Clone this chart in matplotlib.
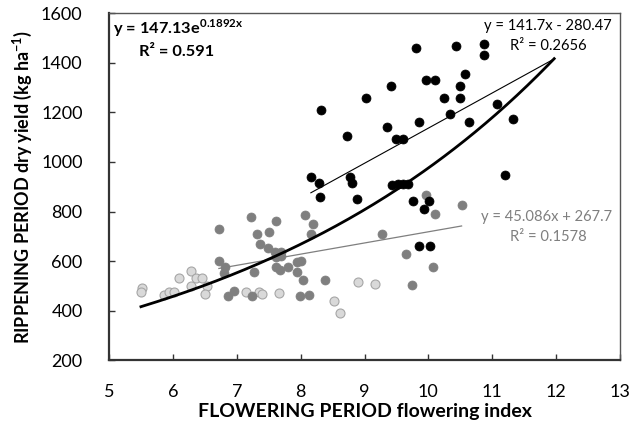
import numpy as np
import matplotlib
matplotlib.use("Agg")
import matplotlib.pyplot as plt

plt.rcParams['font.family'] = ['Lato', 'DejaVu Sans']
plt.rcParams['mathtext.fontset'] = 'custom'
plt.rcParams['mathtext.rm'] = 'Lato'
plt.rcParams['mathtext.bf'] = 'Lato:bold'

# Groupe 1 : points noirs
black_x = [8.32, 8.73, 8.16, 8.29, 8.77, 8.80, 8.30, 8.88, 9.80, 10.44, 10.87, 10.87,
           10.57, 9.96, 10.10, 10.49, 9.41, 9.03, 10.25, 10.50, 11.07, 10.34, 11.32,
           9.85, 10.63, 9.35, 9.50, 9.60, 11.20, 9.43, 9.52, 9.60, 9.68, 9.76, 10.01,
           9.93, 9.85, 10.02]
black_y = [1210, 1105, 941, 917, 941, 917, 860, 850, 1461, 1468, 1476, 1432,
           1354, 1331, 1331, 1308, 1308, 1260, 1257, 1260, 1233, 1194, 1174,
           1162, 1162, 1142, 1092, 1092, 947, 908, 911, 912, 910, 844, 844,
           810, 662, 662]

# Groupe 2 : points gris foncé
gray_x = [9.96, 10.10, 10.52, 9.28, 9.65, 10.07, 9.75, 7.22, 7.61, 8.07, 8.20, 6.72,
          7.31, 7.51, 8.16, 7.37, 7.49, 7.60, 7.70, 7.62, 7.70, 6.72, 7.94, 8.00,
          6.82, 6.80, 7.27, 7.61, 7.68, 7.81, 7.94, 8.03, 8.38, 6.95, 6.87, 7.24,
          7.99, 8.13]
gray_y = [867, 790, 827, 710, 630, 576, 503, 780, 764, 787, 749, 729,
          709, 716, 710, 670, 652, 639, 639, 616, 621, 602, 598, 602,
          576, 552, 558, 576, 565, 576, 558, 525, 525, 480, 460, 461,
          460, 463]

# Groupe 3 : points gris clair
light_x = [8.90, 9.16, 5.51, 5.50, 5.86, 5.94, 6.02, 6.10, 6.28, 6.36, 6.45, 6.29,
           6.53, 6.51, 7.15, 7.35, 7.39, 7.66, 8.53, 8.62]
light_y = [517, 508, 491, 477, 464, 475, 475, 532, 561, 532, 532, 498,
           500, 468, 477, 477, 468, 473, 440, 393]

# Courbes de tendance (équations affichées)
exp_a, exp_b = 147.13, 0.1892
lin1_a, lin1_b = 141.7, -280.47
lin2_a, lin2_b = 45.086, 267.7
trend_xmax = 11.97

fig = plt.figure(figsize=(6.32, 4.25), dpi=100)
ax = fig.add_axes([0.1725, 0.152, 0.8085, 0.817])

ax.scatter(light_x, light_y, s=42, color='#d9d9d9', edgecolors='#a6a6a6', linewidths=0.8, zorder=3)
ax.scatter(gray_x, gray_y, s=42, color='#7f7f7f', edgecolors='#7f7f7f', linewidths=0.5, zorder=3)
ax.scatter(black_x, black_y, s=42, color='black', edgecolors='black', linewidths=0.5, zorder=3)

# Tendance linéaire des noirs
xl1 = np.linspace(min(black_x), trend_xmax, 50)
ax.plot(xl1, lin1_a * xl1 + lin1_b, color='black', lw=0.8, zorder=4)

# Tendance linéaire des gris
xl2 = np.linspace(min(gray_x), max(gray_x), 50)
ax.plot(xl2, lin2_a * xl2 + lin2_b, color='#7f7f7f', lw=0.9, zorder=4)

# Tendance exponentielle globale
all_x = black_x + gray_x + light_x
xe = np.linspace(min(all_x), trend_xmax, 200)
ax.plot(xe, exp_a * np.exp(exp_b * xe), color='black', lw=2.0, zorder=5)

ax.set_xlim(5, 13)
ax.set_ylim(200, 1600)
ax.set_xticks(range(5, 14))
ax.set_yticks(range(200, 1601, 200))
ax.tick_params(direction='in', length=4.5, width=1, labelsize=13, pad=19,
               color='#333333', labelcolor='black')
ax.tick_params(axis='x', pad=17)

for side in ['left', 'bottom']:
    ax.spines[side].set_linewidth(1.6)
    ax.spines[side].set_color('#333333')
for side in ['top', 'right']:
    ax.spines[side].set_linewidth(1.0)
    ax.spines[side].set_color('#555555')

ax.set_xlabel('FLOWERING PERIOD flowering index', fontsize=14, fontweight='bold', labelpad=2)
ax.set_ylabel(r'RIPPENING PERIOD dry yield (kg ha$^{\mathbf{-1}}$)', fontsize=13,
              fontweight='bold', labelpad=5)

# Équations
fig.text(113 / 632, 1 - 28 / 425, r'y = 147.13e$^{\mathbf{0.1892x}}$', fontsize=11.8,
         fontweight='bold', va='center', ha='left')
fig.text(139 / 632, 1 - 52 / 425, 'R² = 0.591', fontsize=11.8, fontweight='bold', va='center', ha='left')

fig.text(612 / 632, 1 - 26 / 425, 'y = 141.7x - 280.47', fontsize=10.6, va='center', ha='right')
fig.text(548 / 632, 1 - 46 / 425, 'R² = 0.2656', fontsize=10.6, va='center', ha='center')
fig.text(612 / 632, 1 - 217 / 425, 'y = 45.086x + 267.7', fontsize=10.6, va='center', ha='right', color='#7f7f7f')
fig.text(548 / 632, 1 - 237 / 425, 'R² = 0.1578', fontsize=10.6, va='center', ha='center', color='#7f7f7f')

fig.savefig('out.png', dpi=100)
